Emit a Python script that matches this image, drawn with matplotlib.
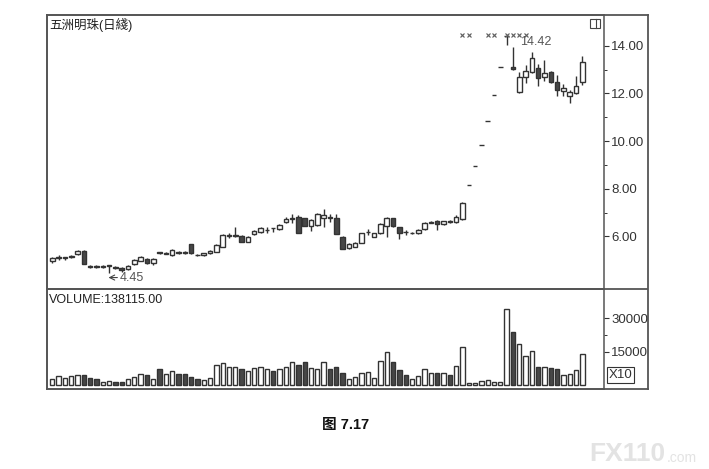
import matplotlib
matplotlib.use('Agg')
import matplotlib.pyplot as plt
from matplotlib.patches import Rectangle

plt.rcParams['font.family'] = ['Liberation Sans', 'Noto Sans CJK SC', 'DejaVu Sans']

# daily OHLC (price in yuan)
opens = [4.95, 5.10, 5.11, 5.14, 5.26, 5.40, 4.76, 4.75, 4.72, 4.77,
         4.73, 4.68, 4.63, 4.83, 4.98, 5.06, 4.90, 5.33, 5.27, 5.20,
         5.33, 5.36, 5.66, 5.23, 5.20, 5.29, 5.36, 5.57, 6.02, 6.02,
         6.03, 5.78, 6.08, 6.17, 6.26, 6.34, 6.30, 6.60, 6.74, 6.82,
         6.75, 6.45, 6.48, 6.78, 6.80, 6.76, 5.98, 5.50, 5.57, 5.71,
         6.18, 5.98, 6.13, 6.43, 6.75, 6.38, 6.19, 6.12, 6.13, 6.30,
         6.58, 6.66, 6.50, 6.63, 6.61, 6.72, 8.14, 8.95, 9.85, 10.83,
         11.92, 13.11, 14.42, 13.10, 12.07, 12.70, 12.91, 13.05, 12.70, 12.91,
         12.49, 12.10, 11.90, 12.00, 12.49]
highs = [5.15, 5.20, 5.13, 5.22, 5.42, 5.42, 4.80, 4.78, 4.78, 4.79,
         4.76, 4.70, 4.80, 5.03, 5.18, 5.10, 5.08, 5.36, 5.36, 5.46,
         5.37, 5.38, 5.68, 5.27, 5.30, 5.42, 5.67, 6.08, 6.12, 6.40,
         6.05, 6.02, 6.25, 6.40, 6.38, 6.35, 6.50, 6.80, 6.92, 6.88,
         6.78, 6.72, 6.98, 7.15, 6.95, 6.95, 6.00, 5.70, 5.76, 6.16,
         6.30, 6.15, 6.55, 6.80, 6.78, 6.40, 6.25, 6.20, 6.30, 6.60,
         6.65, 6.68, 6.66, 6.70, 6.90, 7.45, 8.14, 8.95, 9.85, 10.83,
         11.92, 13.11, 14.42, 13.96, 12.90, 13.20, 13.75, 13.22, 13.40, 12.95,
         12.77, 12.38, 12.14, 12.73, 13.55]
lows = [4.90, 5.00, 5.02, 5.10, 5.22, 4.82, 4.68, 4.66, 4.68, 4.45,
        4.64, 4.52, 4.58, 4.80, 4.95, 4.86, 4.78, 5.25, 5.26, 5.18,
        5.26, 5.26, 5.27, 5.16, 5.18, 5.27, 5.33, 5.55, 5.95, 5.98,
        5.76, 5.76, 6.05, 6.15, 6.15, 6.17, 6.28, 6.55, 6.58, 6.12,
        6.42, 6.22, 6.45, 6.38, 6.60, 6.08, 5.45, 5.47, 5.55, 5.70,
        6.05, 5.96, 6.10, 5.98, 6.40, 5.88, 6.05, 6.08, 6.10, 6.28,
        6.55, 6.27, 6.48, 6.55, 6.58, 6.68, 8.14, 8.95, 9.85, 10.83,
        11.92, 13.11, 14.02, 13.00, 12.00, 12.45, 12.85, 12.30, 12.50, 12.42,
        11.90, 11.90, 11.60, 11.97, 12.35]
closes = [5.08, 5.12, 5.12, 5.17, 5.38, 4.84, 4.72, 4.72, 4.74, 4.78,
          4.69, 4.57, 4.77, 5.00, 5.12, 4.88, 5.05, 5.30, 5.28, 5.42,
          5.30, 5.28, 5.30, 5.21, 5.28, 5.38, 5.62, 6.05, 6.04, 6.04,
          5.78, 5.99, 6.22, 6.36, 6.28, 6.33, 6.46, 6.72, 6.76, 6.15,
          6.45, 6.69, 6.95, 6.90, 6.78, 6.10, 5.47, 5.67, 5.73, 6.13,
          6.20, 6.13, 6.50, 6.76, 6.43, 6.15, 6.17, 6.14, 6.27, 6.57,
          6.62, 6.50, 6.64, 6.61, 6.80, 7.40, 8.14, 8.95, 9.85, 10.83,
          11.92, 13.11, 14.42, 13.02, 12.70, 12.95, 13.47, 12.66, 12.87, 12.49,
          12.14, 12.24, 12.07, 12.31, 13.30]
# volume in axis units (x10 shares)
volumes = [2570, 4190, 3150, 4190, 4640, 4640, 3290, 2570, 1350, 1940,
           1490, 1490, 2570, 3740, 4950, 4370, 2700, 7340, 5090, 6440,
           5090, 4820, 3740, 2840, 2250, 3290, 8870, 9770, 7970, 8240,
           7070, 6440, 7520, 8240, 7340, 6170, 7340, 8240, 10350, 8870,
           10220, 7650, 7340, 10350, 7070, 7970, 5270, 2700, 3740, 5540,
           5990, 3290, 10670, 14850, 10220, 6750, 4370, 2700, 4050, 7340,
           5400, 5540, 5540, 4640, 8690, 17240, 770, 770, 1670, 2120,
           1350, 1350, 34070, 23720, 18320, 13190, 15440, 8240, 8240, 7520,
           7200, 4370, 5090, 6620, 13812]
mark_days = [65, 66, 69, 70, 72, 73, 74, 75]

W, H = 709, 469
def fx(x):
    return x / W
def fy(y):
    return 1 - y / H

edge = '#333333'
dark = '#474747'
frame = '#555555'

fig = plt.figure(figsize=(W / 100, H / 100), dpi=100)
fig.patch.set_facecolor('white')

# outer frame holding both panels and the axis column
box = fig.add_axes([fx(47), fy(389), fx(648) - fx(47), fy(15) - fy(389)])
box.set_xticks([])
box.set_yticks([])
for s in box.spines.values():
    s.set_color(frame)
    s.set_linewidth(1.3)
box.axhline((389 - 289) / 374, color=frame, lw=1.3)

ax = fig.add_axes([fx(47), fy(289), fx(604) - fx(47), fy(15) - fy(289)])
vax = fig.add_axes([fx(47), fy(389), fx(604) - fx(47), fy(289) - fy(389)])
for a in (ax, vax):
    a.patch.set_alpha(0)
    for s in a.spines.values():
        s.set_color(frame)
        s.set_linewidth(1.1)
    a.set_xlim(-0.84, 87.43)
    a.set_xticks([])
    a.yaxis.tick_right()
    a.tick_params(axis='y', which='major', direction='out', length=3.8, width=0.8,
                  pad=1.5, labelsize=9.5, colors='#333333')
    a.tick_params(axis='y', which='minor', direction='out', length=2.2, width=0.7,
                  colors='#333333')

bw = 0.72
vw = 0.68
for i in range(len(opens)):
    o, h, l, c = opens[i], highs[i], lows[i], closes[i]
    down = c < o
    ax.vlines(i, l, h, color=edge, lw=1.0, zorder=2)
    bot = min(o, c)
    ht = abs(c - o)
    ax.add_patch(Rectangle((i - bw / 2, bot), bw, ht, facecolor=dark if down else 'white',
                           edgecolor=edge, lw=1.0, zorder=3))
    vax.add_patch(Rectangle((i - vw / 2, 0), vw, volumes[i], facecolor=dark if down else 'white',
                            edgecolor=edge, lw=1.0, zorder=3))

ax.set_ylim(3.79, 15.29)
ax.set_yticks([6, 8, 10, 12, 14])
ax.set_yticklabels(['%.2f' % v for v in [6, 8, 10, 12, 14]])
ax.set_yticks([7, 9, 11, 13], minor=True)

vax.set_ylim(-1800, 43200)
vax.set_yticks([15000, 30000])
vax.set_yticklabels(['15000', '30000'])
vax.set_yticks([22500], minor=True)

# limit-up markers along the top
ax.plot(mark_days, [14.45] * len(mark_days), 'x', ms=3.5, mew=0.85, color='#606060',
        linestyle='none', zorder=4)

ax.annotate('4.45', xy=(8.9, 4.27), xytext=(10.75, 4.27), fontsize=9, color='#555555',
            va='center', ha='left',
            arrowprops=dict(arrowstyle='->', lw=0.8, color='#444444',
                            shrinkA=0, shrinkB=0))
ax.text(74.1, 14.17, '14.42', fontsize=9, color='#555555', va='center', ha='left', zorder=5)

ax.text(0.004, 0.988, '五洲明珠(日綫)', transform=ax.transAxes, fontsize=9,
        va='top', ha='left', color='#222222')
vax.text(0.004, 0.95, 'VOLUME:138115.00', transform=vax.transAxes, fontsize=9,
         va='top', ha='left', color='#222222')

# small window icon in the corner
fig.add_artist(Rectangle((fx(590), fy(28)), fx(600) - fx(590), fy(19) - fy(28),
                         transform=fig.transFigure, fill=False, ec='#444444', lw=0.8))
fig.add_artist(plt.Line2D([fx(596), fx(596)], [fy(28), fy(19)], transform=fig.transFigure,
                          color='#444444', lw=0.8))

fig.text(fx(609), fy(375), 'X10', fontsize=9.5, va='center', ha='left', color='#333333',
         bbox=dict(boxstyle='square,pad=0.12', fc='white', ec='#333333', lw=0.8))

fig.text(fx(322), fy(425), '图 7.17', fontsize=10.5, fontweight='bold', va='center',
         ha='left', color='#111111')
fig.text(fx(589), fy(454), 'FX110', fontsize=19, fontweight='bold', va='center',
         ha='left', color='#e3e3e3')
fig.text(fx(667), fy(458), '.com', fontsize=10, va='center', ha='left', color='#e3e3e3')

fig.savefig('out.png', dpi=100)
